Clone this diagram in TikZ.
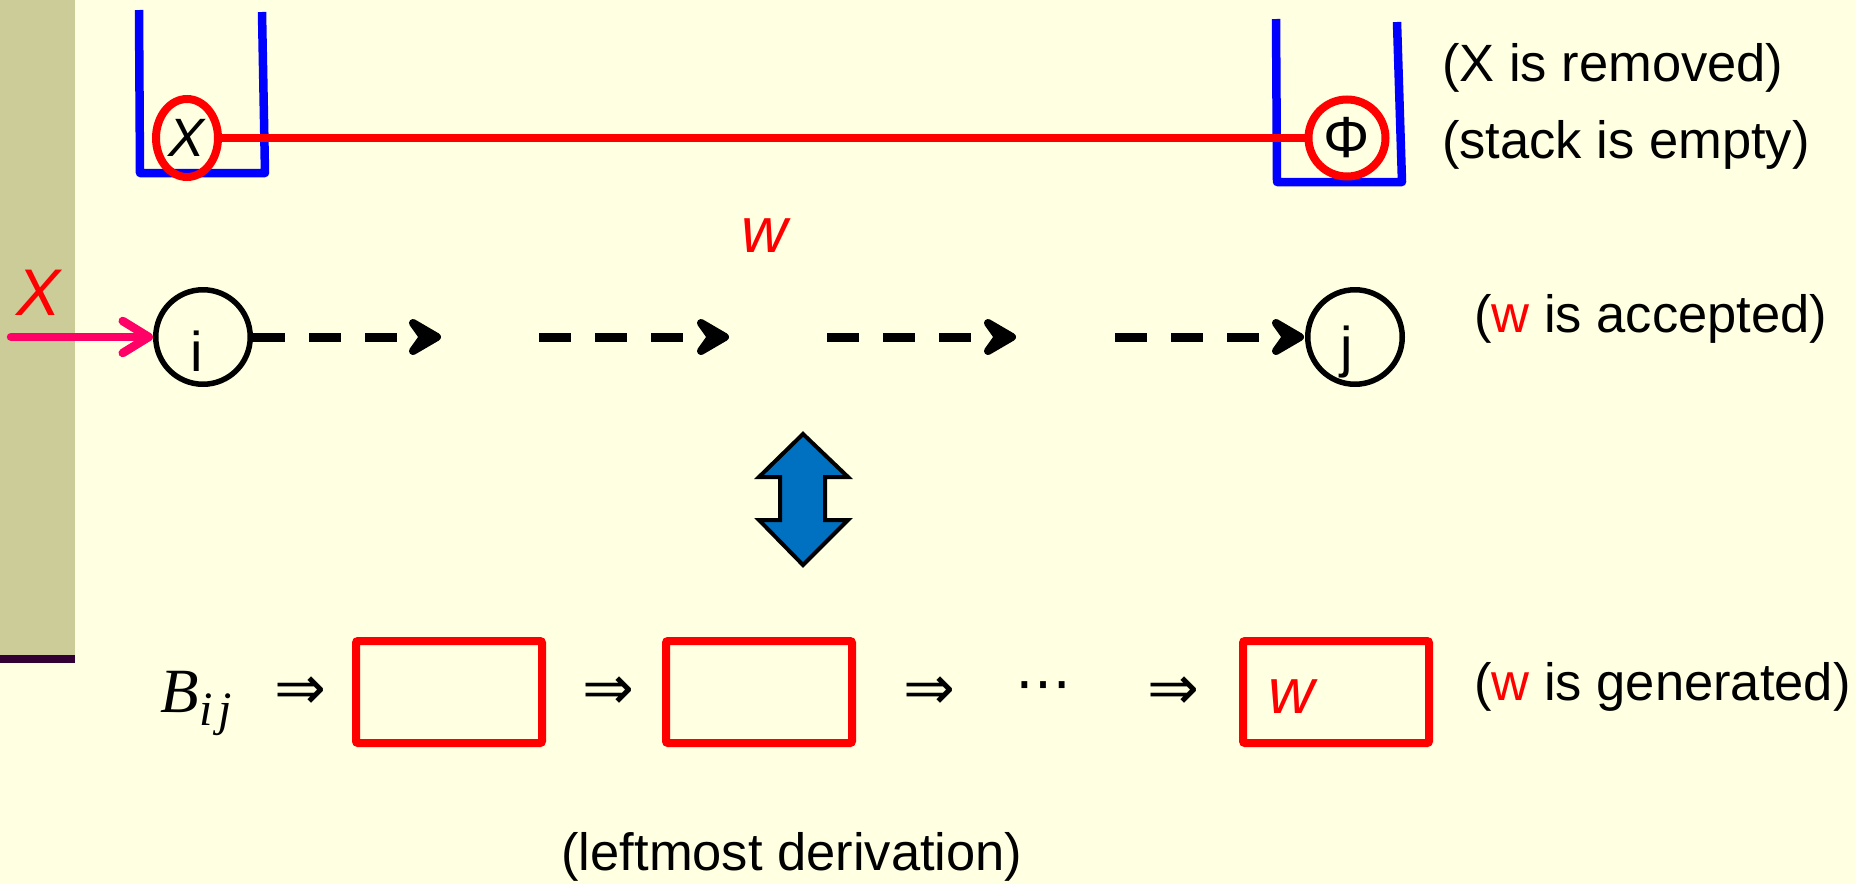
\documentclass[tikz,border=0pt]{standalone}
\usepackage{fontspec}
\setmainfont{Liberation Sans}
\newfontfamily\serifit{Liberation Serif}
\newfontfamily\symfont{DejaVu Sans}
\usetikzlibrary{arrows.meta,shapes.geometric}
\definecolor{bg}{HTML}{FFFFE1}
\definecolor{side}{HTML}{CCCC99}
\definecolor{sidedark}{HTML}{330033}
\definecolor{pinkred}{HTML}{FF0066}
\definecolor{arrowblue}{HTML}{0070C0}
\newcommand\mychevron[1]{%
  \draw[chev] ([shift={(-29pt,14pt)}]#1) -- ([shift={(-5pt,0pt)}]#1)
    -- ([shift={(-29pt,-14pt)}]#1) -- ([shift={(-19pt,0pt)}]#1) -- cycle;}
\begin{document}
\begin{tikzpicture}[x=1pt,y=-1pt,
  txt/.style={font=\fontsize{52.5}{60}\selectfont, inner sep=0, anchor=base west},
  itw/.style={font=\fontsize{64}{70}\selectfont\itshape, text=red, inner sep=0, anchor=base},
  lbl/.style={font=\fontsize{56}{62}\selectfont, inner sep=0, anchor=base},
  state/.style={circle, draw=black, line width=5.5pt, minimum size=94.5pt, inner sep=0},
  stackline/.style={draw=blue, line width=8.5pt, line join=round},
  redring/.style={draw=red, line width=8pt, inner sep=0},
  dashline/.style={line width=9pt, dash pattern=on 32pt off 24pt, shorten >=30pt},
  chev/.style={fill=black, draw=black, line width=8pt, line join=round},
  pinkarrow/.style={draw=pinkred, line width=8.5pt, line cap=round,
     -{Straight Barb[length=26pt, width=32pt, round]}},
  derbox/.style={draw=red, line width=8pt, rounded corners=2pt,
     minimum width=186pt, minimum height=102pt, inner sep=0},
  imp/.style={font=\symfont\fontsize{62}{66}\selectfont, inner sep=0}
]
\useasboundingbox (0,0) rectangle (1856,884);
\fill[bg] (0,0) rectangle (1856,884);
\fill[side] (0,0) rectangle (75,655);
\fill[sidedark] (0,655) rectangle (75,663);

% stacks
\draw[stackline] (139,10) -- (140,173) -- (265,173) -- (262,12);
\draw[stackline] (1276,19) -- (1277,182) -- (1402,182) -- (1397,22);

\node[ellipse, redring, minimum width=62pt, minimum height=78pt,
      font=\fontsize{54}{60}\selectfont\itshape] (X) at (187,138) {X};
\node[circle, redring, minimum size=77pt,
      font=\fontsize{58}{62}\selectfont] (phi) at (1347,138) {Φ};
\draw[red, line width=8.5pt] (X) -- (phi);

\node[txt] (rem) at (1442,81) {(X is removed)};
\node[txt] (emp) at (1442,158) {(stack is empty)};

% automaton
\node[itw] (wtop) at (765,252) {w};
\node[font=\fontsize{66}{70}\selectfont\itshape, text=red, inner sep=0, anchor=base] (Xin) at (39,315) {X};
\coordinate (start) at (11,337);

\node[state] (i) at (203,337) {};
\node[lbl] (ilbl) at (197,371) {i};
\node[state] (j) at (1355,337) {};
\node[lbl] (jlbl) at (1347,366) {j};

\draw[pinkarrow] (start) -- (i.west);

\coordinate (a1) at (442,337);
\coordinate (b0) at (539,337);
\coordinate (b1) at (730,337);
\coordinate (c0) at (827,337);
\coordinate (c1) at (1017,337);
\coordinate (d0) at (1115,337);
\draw[dashline] (i.east) -- (a1);
\draw[dashline] (b0) -- (b1);
\draw[dashline] (c0) -- (c1);
\draw[dashline] (d0) -- (j.west);
\mychevron{a1}
\mychevron{b1}
\mychevron{c1}
\mychevron{j.west}

\node[txt] (acc) at (1474,332) {(\textcolor{red}{w} is accepted)};

% double arrow
\draw[fill=arrowblue, line width=4pt, line join=miter]
  (803,434) -- (848,477) -- (825,477) -- (825,520) -- (848,520) -- (803,565)
  -- (759,520) -- (780,520) -- (780,477) -- (759,477) -- cycle;

% derivation
\node[anchor=base west, inner sep=0] (B) at (160,712)
  {\serifit\itshape\fontsize{63}{70}\selectfont B\kern1pt\raisebox{-13pt}{\fontsize{48}{52}\selectfont i\kern5pt j}};
\node[imp] (r1) at (300,693) {⇒};
\node[derbox] (bx1) at (449,692) {};
\node[imp] (r2) at (608,693) {⇒};
\node[derbox] (bx2) at (759,692) {};
\node[imp] (r3) at (929,693) {⇒};
\node[font=\symfont\fontsize{56}{60}\selectfont, inner sep=0] (dots) at (1043,692) {⋯};
\node[imp] (r4) at (1173,693) {⇒};
\node[derbox] (bx3) at (1336,692) {};
\node[itw] (wbox) at (1292,713) {w};
\node[txt] (gen) at (1474,700) {(\textcolor{red}{w} is generated)};

\node[txt, anchor=base] (lm) at (792,870) {(leftmost derivation)};
\end{tikzpicture}
\end{document}
